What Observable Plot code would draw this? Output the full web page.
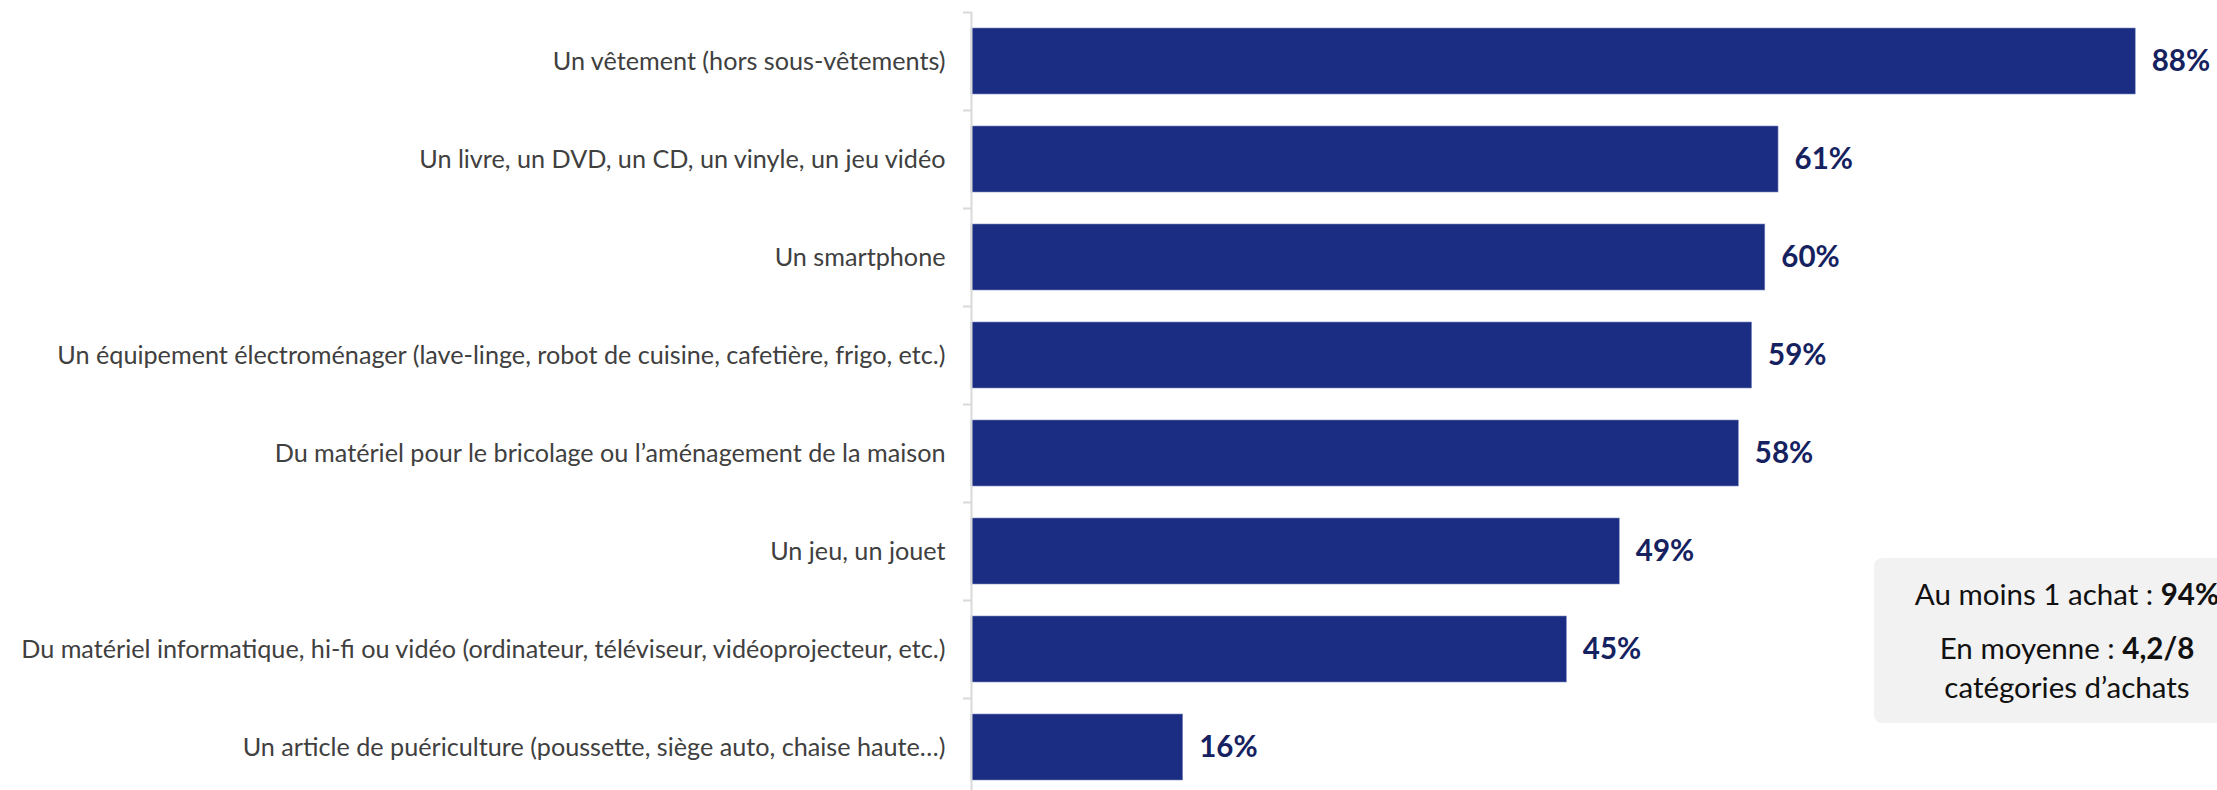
<!DOCTYPE html>
<html>
<head>
<meta charset="utf-8">
<script src="https://cdn.jsdelivr.net/npm/d3@7"></script>
<script src="https://cdn.jsdelivr.net/npm/@observablehq/plot@0.6"></script>
<style>
  html, body { margin: 0; padding: 0; background: #fff; }
  #wrap { position: relative; width: 2217px; height: 790px; overflow: hidden; }
  #note {
    position: absolute; left: 1874px; top: 558px; width: 386px; height: 165px;
    background: #f2f2f2; border-radius: 8px; box-sizing: border-box;
    font-family: Lato, "Open Sans", sans-serif; color: #111; font-size: 29.5px;
  }
  #note .l { position: absolute; left: 0; width: 386px; text-align: center; white-space: nowrap; line-height: 1.2; }
</style>
</head>
<body>
<div id="wrap">
  <div id="chart"></div>
  <div id="note">
    <div class="l" style="top:18px;">Au moins 1 achat : <b>94%</b></div>
    <div class="l" style="top:72px;">En moyenne : <b>4,2/8</b></div>
    <div class="l" style="top:111px;">catégories d’achats</div>
  </div>
</div>
<script>
const categories = [
  "Un vêtement (hors sous-vêtements)",
  "Un livre, un DVD, un CD, un vinyle, un jeu vidéo",
  "Un smartphone",
  "Un équipement électroménager (lave-linge, robot de cuisine, cafetière, frigo, etc.)",
  "Du matériel pour le bricolage ou l’aménagement de la maison",
  "Un jeu, un jouet",
  "Du matériel informatique, hi-fi ou vidéo (ordinateur, téléviseur, vidéoprojecteur, etc.)",
  "Un article de puériculture (poussette, siège auto, chaise haute…)"
];
const values = [88, 61, 60, 59, 58, 49, 45, 16];

const data = categories.map((c, i) => ({category: c, value: values[i]}));

const xRange = [971, 2294];
const yRange = [12, 796];
const step = (yRange[1] - yRange[0]) / categories.length;
const tickLen = 8;
const pxPerUnit = (xRange[1] - xRange[0]) / 100;

const chart = Plot.plot({
  width: 2217,
  height: 790,
  marginLeft: 971,
  marginRight: 0,
  marginTop: 12,
  marginBottom: 0,
  style: {fontFamily: "Lato, 'Open Sans', sans-serif", background: "transparent", overflow: "visible"},
  x: {domain: [0, 100], range: xRange, axis: null},
  y: {domain: categories, range: yRange, paddingInner: 0.33, paddingOuter: 0.165, label: null},
  marks: [
    Plot.barX(data, {x: "value", y: "category", fill: "#1a2d82", stroke: "#7f8cc0", strokeWidth: 0.6}),
    Plot.ruleX([0], {stroke: "#d9d9d9", strokeWidth: 2}),
    Plot.ruleY(categories, {y: d => d, dy: -step / 2, x1: -tickLen / pxPerUnit, x2: 0, stroke: "#d9d9d9", strokeWidth: 2}),
    Plot.axisY({tickSize: 0, tickPadding: 26, fontSize: 25.2, fill: "#404040", label: null}),
    Plot.text(data, {x: "value", y: "category", text: d => d.value + "%", dx: 16, textAnchor: "start",
      fontWeight: "bold", fontSize: 29.5, fill: "#15225f"})
  ]
});
document.getElementById("chart").appendChild(chart);
</script>
</body>
</html>
